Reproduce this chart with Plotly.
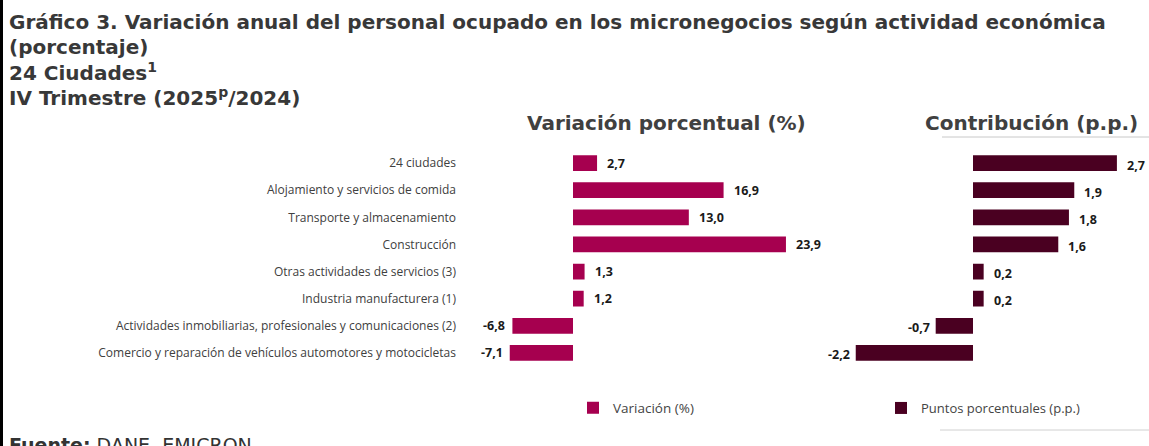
import plotly.graph_objects as go
from plotly.subplots import make_subplots

categories = [
    "24 ciudades",
    "Alojamiento y servicios de comida",
    "Transporte y almacenamiento",
    "Construcción",
    "Otras actividades de servicios (3)",
    "Industria manufacturera (1)",
    "Actividades inmobiliarias, profesionales y comunicaciones (2)",
    "Comercio y reparación de vehículos automotores y motocicletas",
]
variacion = [2.7, 16.9, 13.0, 23.9, 1.3, 1.2, -6.8, -7.1]
contribucion = [2.7, 1.9, 1.8, 1.6, 0.2, 0.2, -0.7, -2.2]

title_lines = [
    "Gráfico 3. Variación anual del personal ocupado en los micronegocios según actividad económica",
    "(porcentaje)",
    "24 Ciudades<sup>1</sup>",
    "IV Trimestre (2025<sup>p</sup>/2024)",
]

W, H = 1149, 446
C_VAR = "#A6004F"
C_CON = "#4A0021"

fig = make_subplots(rows=1, cols=2, shared_yaxes=False, horizontal_spacing=0.0)

fig.add_trace(go.Bar(y=categories, x=variacion, orientation="h", marker_color=C_VAR,
                     marker_line_width=0, width=0.58, name="Variación (%)",
                     legend="legend"), row=1, col=1)
fig.add_trace(go.Bar(y=categories, x=contribucion, orientation="h", marker_color=C_CON,
                     marker_line_width=0, width=0.58, name="Puntos porcentuales (p.p.)",
                     legend="legend2"), row=1, col=2)

def fmt(v):
    return f"{v:.1f}".replace(".", ",")

def px_x(p):
    return p / W

def px_y(p):
    return 1 - p / H

L0, L1, LZ, LS = 462, 830, 573, 8.91
R0, R1, RZ, RS = 840, 1149, 973, 53.3
TOP, BOT = 149.5, 366.5

fig.update_xaxes(domain=[px_x(L0), px_x(L1)], range=[(L0 - LZ) / LS, (L1 - LZ) / LS],
                 showgrid=False, zeroline=False, showticklabels=False, showline=False,
                 fixedrange=True, row=1, col=1)
fig.update_xaxes(domain=[px_x(R0), px_x(R1)], range=[(R0 - RZ) / RS, (R1 - RZ) / RS],
                 showgrid=False, zeroline=False, showticklabels=False, showline=False,
                 fixedrange=True, row=1, col=2)
fig.update_yaxes(domain=[px_y(BOT), px_y(TOP)], categoryorder="array",
                 categoryarray=categories, autorange="reversed", showgrid=False,
                 zeroline=False, showline=False, ticks="", ticklabelstandoff=5,
                 tickfont=dict(family="Open Sans", size=12, color="#404040"),
                 fixedrange=True, row=1, col=1)
fig.update_yaxes(domain=[px_y(BOT), px_y(TOP)], categoryorder="array",
                 categoryarray=categories, autorange="reversed", showgrid=False,
                 zeroline=False, showline=False, showticklabels=False,
                 fixedrange=True, row=1, col=2)

annotations = []
lab_font = dict(family="Open Sans", size=12.5, color="#1a1a1a")
for c, v in zip(categories, variacion):
    annotations.append(dict(x=v, y=c, xref="x", yref="y", text=f"<b>{fmt(v)}</b>",
                            showarrow=False, xanchor="left" if v >= 0 else "right",
                            xshift=8 if v >= 0 else -5, font=lab_font))
for c, v in zip(categories, contribucion):
    annotations.append(dict(x=v, y=c, xref="x2", yref="y2", text=f"<b>{fmt(v)}</b>",
                            showarrow=False, xanchor="left" if v >= 0 else "right",
                            xshift=8 if v >= 0 else -4, yshift=-2, font=lab_font))

head_font = dict(family="DejaVu Sans", size=20, color="#383838")
for i, line in enumerate(title_lines):
    annotations.append(dict(x=px_x(7), y=px_y(22 + 25 * i), xref="paper", yref="paper",
                            text=f"<b>{line}</b>", showarrow=False, xanchor="left",
                            yanchor="middle", font=head_font))

sub_font = dict(family="DejaVu Sans", size=20, color="#404040")
annotations.append(dict(x=px_x(666), y=px_y(123), xref="paper", yref="paper",
                        text="<b>Variación porcentual (%)</b>", showarrow=False,
                        xanchor="center", yanchor="middle", font=sub_font))
annotations.append(dict(x=px_x(1031), y=px_y(123), xref="paper", yref="paper",
                        text="<b>Contribución (p.p.)</b>", showarrow=False,
                        xanchor="center", yanchor="middle", font=sub_font))
annotations.append(dict(x=px_x(7), y=px_y(445), xref="paper", yref="paper",
                        text="<b>Fuente:</b> DANE, EMICRON.", showarrow=False,
                        xanchor="left", yanchor="middle",
                        font=dict(family="DejaVu Sans", size=19, color="#333333")))

shapes = [
    dict(type="rect", xref="paper", yref="paper", x0=0, x1=px_x(3), y0=0, y1=1,
         fillcolor="#000000", line_width=0),
    dict(type="line", xref="paper", yref="paper", x0=px_x(942), x1=1, y0=px_y(137),
         y1=px_y(137), line=dict(color="#c8c8c8", width=1)),
    dict(type="line", xref="paper", yref="paper", x0=px_x(940), x1=1, y0=px_y(430),
         y1=px_y(430), line=dict(color="#d0d0d0", width=1)),
]

fig.update_layout(
    width=W, height=H, margin=dict(l=0, r=0, t=0, b=0),
    paper_bgcolor="white", plot_bgcolor="white",
    separators=",.",
    annotations=annotations, shapes=shapes, bargap=0.4,
    legend=dict(x=px_x(573), y=px_y(408), xanchor="left", yanchor="middle",
                orientation="h", font=dict(family="Open Sans", size=13.5, color="#444444"),
                itemwidth=30, bgcolor="rgba(0,0,0,0)"),
    legend2=dict(x=px_x(881), y=px_y(408), xanchor="left", yanchor="middle",
                 orientation="h", font=dict(family="Open Sans", size=13, color="#444444"),
                 itemwidth=30, bgcolor="rgba(0,0,0,0)"),
    showlegend=True,
)

fig.write_html("out.html", config={"displayModeBar": False},
               post_script="document.body.style.margin='0';")
